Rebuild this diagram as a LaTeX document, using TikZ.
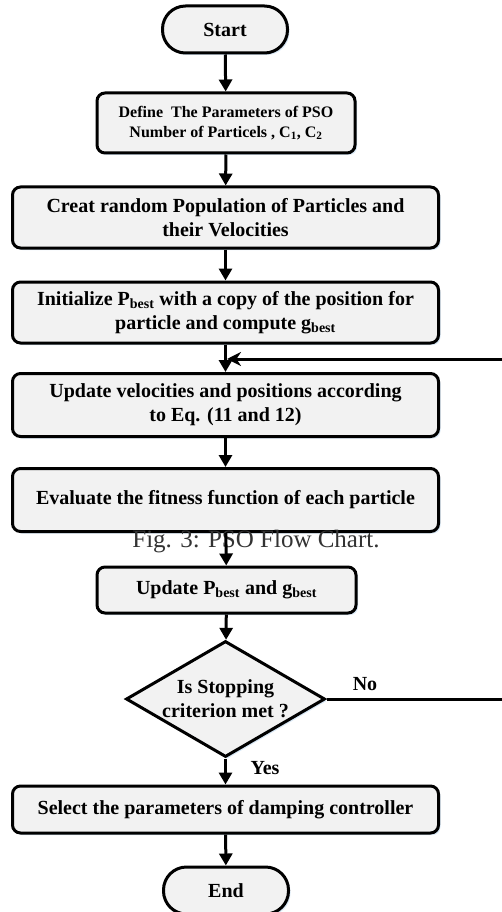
\documentclass[tikz,border=0pt]{standalone}
\usepackage{fontspec}
\setmainfont{Liberation Serif}
\usetikzlibrary{arrows.meta, shapes.geometric, shadows}
\definecolor{boxgray}{HTML}{F2F2F2}
\definecolor{glow}{HTML}{BDD7EE}
\tikzset{procnode/.style={rectangle, draw, line width=3pt, rounded corners=8pt, fill=boxgray,
    inner sep=0pt, align=center, font=\bfseries\fontsize{20}{24}\selectfont,
    drop shadow={shadow xshift=2pt, shadow yshift=-2pt, fill=glow, opacity=0.6}},
  termnode/.style={procnode, rounded corners=23pt, minimum width=125pt, minimum height=47pt},
  decnode/.style={diamond, draw, line width=3pt, fill=boxgray, inner sep=0pt, aspect=1.716,
    minimum width=199pt, minimum height=116pt, align=center, font=\bfseries\fontsize{20}{24}\selectfont,
    drop shadow={shadow xshift=2pt, shadow yshift=-2pt, fill=glow, opacity=0.6}},
  flowline/.style={line width=3pt, -{Triangle[length=12pt, width=13pt]}}}

\begin{document}
\begin{tikzpicture}[x=1pt, y=-1pt]

\useasboundingbox (0, 0) rectangle (502, 912);

  % nodes

  \node [style = termnode] (start) at (225, 29.5) {Start};
  \node [style = procnode, minimum width=258pt, minimum height=60pt,
    font=\bfseries\fontsize{16}{20}\selectfont] (define) at (226, 123)
    {Define\ \ The Parameters of PSO\\Number of Particels , C\textsubscript{1}, C\textsubscript{2}};
  \node [style = procnode, minimum width=426pt, minimum height=61pt] (creat) at (225.5, 217.5)
    {Creat random Population of Particles and\\their Velocities};
  \node [style = procnode, minimum width=426pt, minimum height=61pt] (init) at (225.5, 312.5)
    {Initialize P\textsubscript{best} with a copy of the position for\\particle and compute g\textsubscript{best}};
  \node [style = procnode, minimum width=426pt, minimum height=63pt] (update) at (225.5, 405)
    {Update velocities and positions according\\to Eq. (11 and 12)};
  \node [style = procnode, minimum width=426pt, minimum height=63pt] (eval) at (225.5, 500)
    {Evaluate the fitness function of each particle};
  \node [style = procnode, minimum width=259pt, minimum height=46pt] (upbest) at (226.5, 590)
    {Update P\textsubscript{best} and g\textsubscript{best}};
  \node [style = decnode] (stop) at (225.5, 699) {Is Stopping\\criterion met ?};
  \node [style = procnode, minimum width=426pt, minimum height=47pt] (select) at (225.5, 809.5)
    {Select the parameters of damping controller};
  \node [style = termnode] (end) at (226, 890.5) {End};

  % labels
  \node [font=\bfseries\fontsize{20}{24}\selectfont] (no) at (365, 684) {No};
  \node [font=\bfseries\fontsize{20}{24}\selectfont] (yes) at (265, 768) {Yes};
  \node [font=\fontsize{25}{30}\selectfont, text=black!80] (caption) at (256, 542) {Fig. 3: PSO Flow Chart.};

  % loop back
  \coordinate (r1) at (530, 699);
  \coordinate (r2) at (530, 359);
  \coordinate (j) at (227, 359);

  %  edges
  \draw [style = flowline] (start) to (define);
  \draw [style = flowline] (define) to (creat);
  \draw [style = flowline] (creat) to (init);
  \draw [style = flowline] (init) to (update);
  \draw [style = flowline] (update) to (eval);
  \draw [style = flowline] (eval) to (upbest);
  \draw [style = flowline] (upbest) to (stop);
  \draw [style = flowline] (stop) to (select);
  \draw [style = flowline] (select) to (end);
  \draw [line width=3pt, -{Stealth[length=14pt, width=14pt]}] (stop.east) -- (r1) -- (r2) -- (j);

\end{tikzpicture}
\end{document}
